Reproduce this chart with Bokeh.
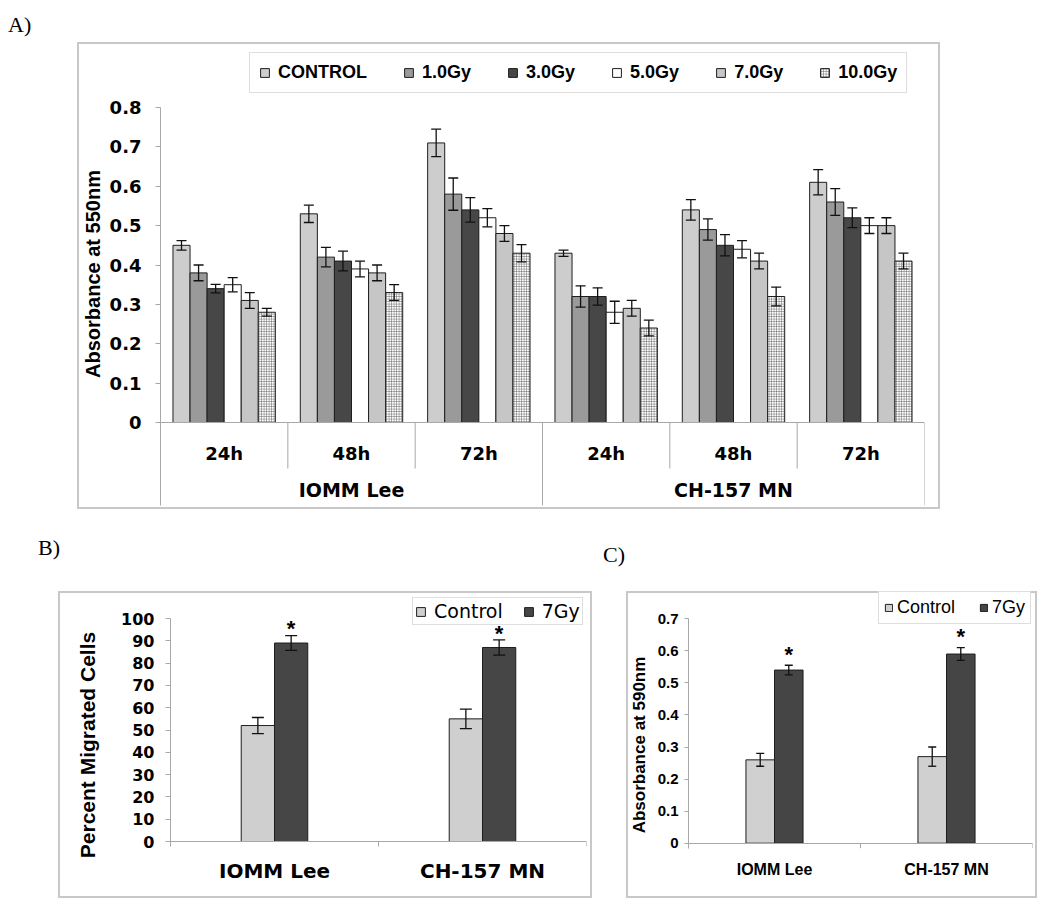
from bokeh.plotting import figure
from bokeh.models import (ColumnDataSource, FactorRange, Range1d, CategoricalAxis, FixedTicker,
                          Legend, LegendItem, Div, Spacer)
from bokeh.layouts import column, row
from bokeh.transform import dodge
from bokeh.core.properties import value
from bokeh.embed import file_html
from bokeh.resources import INLINE

# ---------------- panel A data ----------------
a_lines = ["IOMM Lee", "CH-157 MN"]
a_times = ["24h", "48h", "72h"]
a_doses = ["CONTROL", "1.0Gy", "3.0Gy", "5.0Gy", "7.0Gy", "10.0Gy"]
# order: IOMM 24h, 48h, 72h, CH-157 24h, 48h, 72h
a_control = [0.45, 0.53, 0.71, 0.43, 0.54, 0.61]
a_1gy = [0.38, 0.42, 0.58, 0.32, 0.49, 0.56]
a_3gy = [0.34, 0.41, 0.54, 0.32, 0.45, 0.52]
a_5gy = [0.35, 0.39, 0.52, 0.28, 0.44, 0.50]
a_7gy = [0.31, 0.38, 0.48, 0.29, 0.41, 0.50]
a_10gy = [0.28, 0.33, 0.43, 0.24, 0.32, 0.41]
a_control_err = [0.012, 0.022, 0.035, 0.008, 0.026, 0.032]
a_1gy_err = [0.02, 0.025, 0.041, 0.027, 0.027, 0.034]
a_3gy_err = [0.011, 0.025, 0.031, 0.022, 0.027, 0.025]
a_5gy_err = [0.018, 0.02, 0.023, 0.028, 0.022, 0.02]
a_7gy_err = [0.02, 0.02, 0.02, 0.02, 0.02, 0.02]
a_10gy_err = [0.01, 0.02, 0.022, 0.02, 0.024, 0.02]
a_yticks = [0, 0.1, 0.2, 0.3, 0.4, 0.5, 0.6, 0.7, 0.8]
a_ylabels = ["0", "0.1", "0.2", "0.3", "0.4", "0.5", "0.6", "0.7", "0.8"]

# ---------------- panel B data ----------------
b_lines = ["IOMM Lee", "CH-157 MN"]
b_groups = ["Control", "7Gy"]
b_control = [52, 55]
b_control_err = [3.6, 4.4]
b_7gy = [89, 87]
b_7gy_err = [3.3, 3.4]
b_yticks = [0, 10, 20, 30, 40, 50, 60, 70, 80, 90, 100]
b_ylabels = ["0", "10", "20", "30", "40", "50", "60", "70", "80", "90", "100"]

# ---------------- panel C data ----------------
c_lines = ["IOMM Lee", "CH-157 MN"]
c_groups = ["Control", "7Gy"]
c_control = [0.26, 0.27]
c_control_err = [0.02, 0.03]
c_7gy = [0.54, 0.59]
c_7gy_err = [0.015, 0.02]
c_yticks = [0, 0.1, 0.2, 0.3, 0.4, 0.5, 0.6, 0.7]
c_ylabels = ["0", "0.1", "0.2", "0.3", "0.4", "0.5", "0.6", "0.7"]

# ---------------- styling ----------------
AX = "#a8a8a8"
EDGE = "#1e1e1e"
BOX = {"outline": "2px solid #c8c8c8", "outline-offset": "-2px"}
SANS = "Liberation Sans"
WIDE = "DejaVu Sans"
NARROW = "'Liberation Sans Narrow', 'Liberation Sans', sans-serif"


def base_fig(xr, yr, w, h, ml, mr, mb):
    p = figure(x_range=xr, y_range=yr, width=w, height=h, output_backend="svg",
               toolbar_location=None, x_axis_location=None, y_axis_location="left",
               min_border_left=ml, min_border_right=mr, min_border_top=0,
               min_border_bottom=mb, margin=0, styles=BOX)
    p.outline_line_color = None
    p.grid.visible = False
    p.background_fill_color = None
    p.border_fill_color = None
    return p


def style_y(p, ticks, labels, bottom, font, size, tick_out, standoff,
            title, tfont, tsize, tstandoff):
    ax = p.yaxis[0]
    ax.ticker = FixedTicker(ticks=ticks)
    ax.major_label_overrides = dict(zip(ticks, labels))
    ax.bounds = (bottom, ticks[-1])
    ax.minor_tick_line_color = None
    ax.major_tick_in = 0
    ax.major_tick_out = tick_out
    ax.axis_line_color = AX
    ax.major_tick_line_color = AX
    ax.major_label_standoff = standoff
    ax.major_label_text_font = font
    ax.major_label_text_font_size = size
    ax.major_label_text_font_style = "bold"
    ax.major_label_text_color = "black"
    ax.axis_label = title
    ax.axis_label_text_font = tfont
    ax.axis_label_text_font_size = tsize
    ax.axis_label_text_font_style = "bold"
    ax.axis_label_text_color = "black"
    ax.axis_label_standoff = tstandoff


def add_bars(p, xr, xs, vals, errs, off, width, cap, star_gap=None, star_size="22px", **fill):
    src = ColumnDataSource(dict(
        x=xs, top=vals,
        upper=[v + e for v, e in zip(vals, errs)],
        lower=[v - e for v, e in zip(vals, errs)],
    ))
    xx = dodge("x", off, range=xr)
    r = p.vbar(x=xx, top="top", width=width, source=src, line_color=EDGE, line_width=1, **fill)
    p.segment(x0=xx, y0="lower", x1=xx, y1="upper", source=src, line_color="#111111", line_width=1.3)
    p.scatter(x=xx, y="upper", marker="dash", size=cap, source=src, line_color="#111111", line_width=1.3)
    p.scatter(x=xx, y="lower", marker="dash", size=cap, source=src, line_color="#111111", line_width=1.3)
    if star_gap is not None:
        src.data["star"] = [u + star_gap for u in src.data["upper"]]
        p.text(x=xx, y="star", text=value("*"), source=src, text_align="center",
               text_baseline="middle", text_font=value(SANS), text_font_style="bold",
               text_font_size=star_size, text_color="black")
    return r


# =============== PANEL A ===============
a_factors = [(l, t) for l in a_lines for t in a_times]
a_xr = FactorRange(*a_factors, factor_padding=0, subgroup_padding=0, group_padding=0, range_padding=0)
A_PX = 393.75  # pixels per unit
a_yr = Range1d(-(505 - 422) / A_PX, (422 - 42) / A_PX)
pA = base_fig(a_xr, a_yr, 863, 467, 83, 16, 4)
style_y(pA, a_yticks, a_ylabels, a_yr.start, WIDE, "18px", 5, 14,
        "Absorbance at 550nm", SANS, "20px", 3)

a_vals = [a_control, a_1gy, a_3gy, a_5gy, a_7gy, a_10gy]
a_errs = [a_control_err, a_1gy_err, a_3gy_err, a_5gy_err, a_7gy_err, a_10gy_err]
a_fills = [
    dict(fill_color="#cdcdcd"),
    dict(fill_color="#9a9a9a"),
    dict(fill_color="#474747"),
    dict(fill_color="#ffffff"),
    dict(fill_color="#c6c6c6"),
    dict(fill_color="#ffffff", hatch_pattern="+", hatch_color="#5f5f5f", hatch_scale=2.5, hatch_weight=0.6),
]
a_bw = 0.134
a_rs = []
for i, (v, e, f) in enumerate(zip(a_vals, a_errs, a_fills)):
    a_rs.append(add_bars(pA, a_xr, a_factors, v, e, (i - (len(a_vals) - 1) / 2) * a_bw, a_bw, 10, **f))

# category dividers below the axis
a_div_x = list(range(1, len(a_factors) + 1))
a_div_y1 = [a_yr.start if k % len(a_times) == 0 else -46 / A_PX for k in a_div_x]
pA.segment(x0=a_div_x, y0=[0] * len(a_div_x), x1=a_div_x, y1=a_div_y1, line_color=AX, line_width=1)

axA1 = CategoricalAxis(fixed_location=0, axis_line_color=AX, major_tick_line_color=None,
                       major_tick_in=0, major_tick_out=0, major_label_standoff=20,
                       major_label_text_font=WIDE, major_label_text_font_size="18px",
                       major_label_text_font_style="bold", major_label_text_color="black",
                       group_text_alpha=0, separator_line_color=None)
axA2 = CategoricalAxis(fixed_location=0, axis_line_color=None, major_tick_line_color=None,
                       major_tick_in=0, major_tick_out=0, major_label_standoff=56,
                       major_label_text_font=WIDE, major_label_text_font_size="18px",
                       major_label_text_font_style="bold", major_label_text_alpha=0,
                       group_text_font=WIDE, group_text_font_size="19px",
                       group_text_font_style="bold", group_text_color="black",
                       separator_line_color=None)
pA.add_layout(axA1, "below")
pA.add_layout(axA2, "below")

legA = Legend(items=[LegendItem(label=d, renderers=[r]) for d, r in zip(a_doses, a_rs)],
              orientation="horizontal", location=(89, 412), padding=9, spacing=36,
              label_standoff=8, glyph_width=11, glyph_height=11, label_height=21, margin=0,
              label_text_font=SANS, label_text_font_style="bold", label_text_font_size="18px",
              label_text_color="black", border_line_color="#bdbdbd", border_line_width=1,
              background_fill_color="white", background_fill_alpha=1)
pA.add_layout(legA)

# =============== PANEL B ===============
b_xr = FactorRange(*b_lines, range_padding=0)
B_PX = 2.23
b_yr = Range1d(-(898 - 841) / B_PX, (841 - 591) / B_PX)
pB = base_fig(b_xr, b_yr, 534, 307, 112, 6, 0)
style_y(pB, b_yticks, b_ylabels, -5 / B_PX, WIDE, "16px", 5, 11,
        "Percent Migrated Cells", SANS, "21px", 19)
b_bw = 0.16
rB1 = add_bars(pB, b_xr, b_lines, b_control, b_control_err, -b_bw / 2, b_bw, 12, fill_color="#cfcfcf")
rB2 = add_bars(pB, b_xr, b_lines, b_7gy, b_7gy_err, b_bw / 2, b_bw, 12, star_gap=3, fill_color="#464646")
b_div_x = list(range(1, len(b_lines) + 1))
pB.segment(x0=b_div_x, y0=[0] * len(b_div_x), x1=b_div_x, y1=[-5 / B_PX] * len(b_div_x),
           line_color=AX, line_width=1)
axB = CategoricalAxis(fixed_location=0, axis_line_color=AX, major_tick_line_color=None,
                      major_tick_in=0, major_tick_out=0, major_label_standoff=17,
                      major_label_text_font=WIDE, major_label_text_font_size="20px",
                      major_label_text_font_style="bold", major_label_text_color="black")
pB.add_layout(axB, "below")
legB = Legend(items=[LegendItem(label=g, renderers=[r]) for g, r in zip(b_groups, [rB1, rB2])],
              orientation="horizontal", location=(242, 273), padding=2, spacing=20,
              label_standoff=8, glyph_width=11, glyph_height=11, label_height=16, margin=0,
              label_text_font=WIDE, label_text_font_size="19px", label_text_color="black",
              border_line_color="#bdbdbd", border_line_width=1,
              background_fill_color="white", background_fill_alpha=1)
pB.add_layout(legB)

# =============== PANEL C ===============
c_xr = FactorRange(*c_lines, range_padding=0)
C_PX = 320.6
c_yr = Range1d(-(898 - 842.7) / C_PX, (842.7 - 591) / C_PX)
pC = base_fig(c_xr, c_yr, 411, 307, 61, 5, 0)
style_y(pC, c_yticks, c_ylabels, -5 / C_PX, NARROW, "15px", 4, 6,
        "Absorbance at 590nm", SANS, "17px", 6)
c_bw = 0.166
rC1 = add_bars(pC, c_xr, c_lines, c_control, c_control_err, -c_bw / 2, c_bw, 8, fill_color="#d0d0d0")
rC2 = add_bars(pC, c_xr, c_lines, c_7gy, c_7gy_err, c_bw / 2, c_bw, 8, star_gap=0.035, fill_color="#454545")
c_div_x = list(range(1, len(c_lines) + 1))
pC.segment(x0=c_div_x, y0=[0] * len(c_div_x), x1=c_div_x, y1=[-5 / C_PX] * len(c_div_x),
           line_color=AX, line_width=1)
axC = CategoricalAxis(fixed_location=0, axis_line_color=AX, major_tick_line_color=None,
                      major_tick_in=0, major_tick_out=0, major_label_standoff=18,
                      major_label_text_font=NARROW, major_label_text_font_size="16px",
                      major_label_text_font_style="bold", major_label_text_color="black")
pC.add_layout(axC, "below")
legC = Legend(items=[LegendItem(label=g, renderers=[r]) for g, r in zip(c_groups, [rC1, rC2])],
              orientation="horizontal", location=(190, 274), padding=5, spacing=24,
              label_standoff=4, glyph_width=9, glyph_height=9, label_height=16, margin=0,
              label_text_font=NARROW, label_text_font_size="18px", label_text_color="black",
              border_line_color="#bdbdbd", border_line_width=1,
              background_fill_color="white", background_fill_alpha=1)
pC.add_layout(legC)


# =============== page layout ===============
def panel_label(txt, h):
    return Div(text=txt, width=40, height=h, margin=0,
               styles={"font-family": "'Liberation Serif', serif", "font-size": "22px",
                       "line-height": "24px", "color": "black"})


def sp(w, h):
    return Spacer(width=w, height=h, margin=0)


topA = column(sp(40, 5), panel_label("A)", 29), row(sp(69, 467), pA, spacing=0), spacing=0)
colB = column(sp(40, 27), row(sp(30, 30), panel_label("B)", 30), spacing=0), sp(40, 25),
              row(sp(50, 307), pB, spacing=0), spacing=0)
colC = column(sp(40, 34), row(sp(11, 30), panel_label("C)", 30), spacing=0), sp(40, 18),
              row(sp(34, 307), pC, spacing=0), spacing=0)
content = column(topA, row(colB, colC, spacing=0), spacing=0)
root = column(sp(8, 8), row(sp(8, 8), content, spacing=0), spacing=0)

open("out.html", "w").write(file_html(root, INLINE))
